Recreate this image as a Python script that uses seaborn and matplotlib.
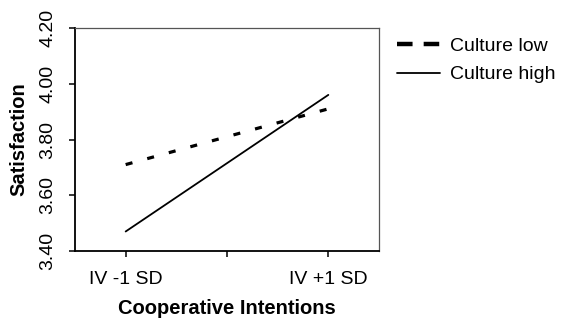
import matplotlib
matplotlib.use("Agg")
import matplotlib.pyplot as plt
import seaborn as sns
import pandas as pd
from matplotlib.lines import Line2D

# ---- data ----
tick_labels = ["IV -1 SD", "", "IV +1 SD"]
levels = ["IV -1 SD", "IV +1 SD"]
culture_low = [3.71, 3.91]
culture_high = [3.47, 3.96]
series_names = ["Culture low", "Culture high"]
y_ticks = [3.40, 3.60, 3.80, 4.00, 4.20]

x_pos = [tick_labels.index(l) for l in levels]
df = pd.DataFrame({
    "x": x_pos * 2,
    "Satisfaction": culture_low + culture_high,
    "Culture": [series_names[0]] * 2 + [series_names[1]] * 2,
})

sns.set_theme(style="white")
plt.rcParams["font.family"] = ["Liberation Sans", "DejaVu Sans"]
plt.rcParams["text.color"] = "black"
plt.rcParams["axes.labelcolor"] = "black"
plt.rcParams["xtick.color"] = "black"
plt.rcParams["ytick.color"] = "black"

fig = plt.figure(figsize=(5.65, 3.24), dpi=100)
ax = fig.add_axes([75 / 565, 1 - 251 / 324, (379 - 75) / 565, (251 - 28) / 324])

low = df[df["Culture"] == series_names[0]]
high = df[df["Culture"] == series_names[1]]
sns.lineplot(data=low, x="x", y="Satisfaction", ax=ax, color="black",
             linewidth=2.3, dashes=False, legend=False)
ax.lines[-1].set_dashes((2.2, 4.8))
sns.lineplot(data=high, x="x", y="Satisfaction", ax=ax, color="black",
             linewidth=1.3, legend=False)

ax.set_xlim(-0.5, 2.5)
ax.set_ylim(y_ticks[0], y_ticks[-1])
ax.set_xticks(range(len(tick_labels)))
ax.set_xticklabels(tick_labels, fontsize=14)
ax.set_yticks(y_ticks)
ax.set_yticklabels([f"{v:.2f}" for v in y_ticks], fontsize=14, rotation=90, va="center")

ax.tick_params(axis="both", which="both", direction="out", length=4.5, width=1.1,
               color="black", labelcolor="black",
               bottom=True, left=True, top=False, right=False)
ax.tick_params(axis="x", pad=10)
ax.tick_params(axis="y", pad=9)

for s in ["left", "bottom"]:
    ax.spines[s].set_color("black")
    ax.spines[s].set_linewidth(1.3)
for s in ["top", "right"]:
    ax.spines[s].set_color("#555555")
    ax.spines[s].set_linewidth(0.9)
ax.grid(False)

ax.set_xlabel("Cooperative Intentions", fontsize=14.5, fontweight="bold", labelpad=8, color="black")
ax.set_ylabel("Satisfaction", fontsize=14.5, fontweight="bold", labelpad=8, color="black")

handles = [
    Line2D([], [], color="black", linewidth=3.2, dashes=(3.5, 2.5)),
    Line2D([], [], color="black", linewidth=1.3),
]
fig.legend(handles, series_names, loc="upper left",
           bbox_to_anchor=(397 / 565, 1 - 37 / 324), frameon=False,
           fontsize=14, handlelength=2.2, handletextpad=0.55,
           labelspacing=0.58, borderpad=0, borderaxespad=0, labelcolor="black")

fig.savefig("out.png", dpi=100)
